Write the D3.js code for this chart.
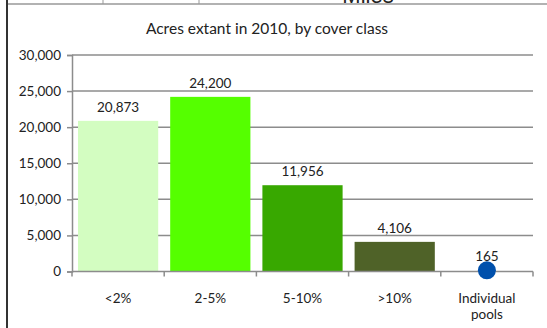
<!DOCTYPE html>
<html>
<head>
<meta charset="utf-8">
<script src="https://cdn.jsdelivr.net/npm/d3@7"></script>
<style>
    body { margin: 0; background: #fff; }
    svg text { font-family: Lato, "Open Sans", sans-serif; fill: #222; }
</style>
</head>
<body>
<div id="chart"></div>
<script>
// data
const categories = ["<2%", "2-5%", "5-10%", ">10%", "Individual pools"];
const acres = [20873, 24200, 11956, 4106, 165];
const yTicks = [0, 5000, 10000, 15000, 20000, 25000, 30000];

const barColors = ["#d3fdc1", "#55ff00", "#38a800", "#4f6228"];
const dotColor = "#0050ac";

let width = 547, height = 328;
let margin = {top: 55, right: 14, bottom: 56.5, left: 72};

let svg = d3.select("#chart").append("svg")
    .attr("width", width)
    .attr("height", height);

// leftover bits of the surrounding document
svg.append("line")
    .attr("x1", 8).attr("x2", width).attr("y1", 4).attr("y2", 4)
    .attr("stroke", "#999").attr("stroke-width", 1.5);
[103, 199].forEach(x => svg.append("line")
    .attr("x1", x).attr("x2", x).attr("y1", 0).attr("y2", 4)
    .attr("stroke", "#999"));
svg.append("line")
    .attr("x1", 7).attr("x2", 7).attr("y1", 0).attr("y2", height)
    .attr("stroke", "#333").attr("stroke-width", 2);
svg.append("text")
    .attr("x", 368).attr("y", 3)
    .attr("text-anchor", "middle")
    .style("font-size", "22px")
    .style("font-family", "Liberation Sans, Arial, sans-serif")
    .text("Miles");

// title
svg.append("text")
    .attr("x", 267).attr("y", 34)
    .attr("text-anchor", "middle")
    .style("font-size", "15.5px")
    .text("Acres extant in 2010, by cover class");

let innerW = width - margin.left - margin.right;
let innerH = height - margin.top - margin.bottom;

let g = svg.append("g")
    .attr("transform", `translate(${margin.left},${margin.top})`);

let x = d3.scaleBand()
    .domain(categories)
    .range([0, innerW])
    .paddingInner(0.13)
    .paddingOuter(0.065);

let xBand = d3.scaleBand()
    .domain(categories)
    .range([0, innerW]);

let y = d3.scaleLinear()
    .domain([0, 30000])
    .range([innerH, 0]);

// gridlines
g.selectAll(".grid")
    .data(yTicks.slice(1))
    .enter().append("line")
    .attr("class", "grid")
    .attr("x1", 0).attr("x2", innerW)
    .attr("y1", d => y(d)).attr("y2", d => y(d))
    .attr("stroke", "#8c8c8c").attr("stroke-width", 1.5);

// y axis
let yAxis = d3.axisLeft(y)
    .tickValues(yTicks)
    .tickSize(5)
    .tickPadding(6)
    .tickFormat(d3.format(","));
let yAxisGroup = g.append("g").call(yAxis);
yAxisGroup.select(".domain").attr("stroke", "#8c8c8c").attr("stroke-width", 1.5);
yAxisGroup.selectAll(".tick line").attr("stroke", "#8c8c8c").attr("stroke-width", 1.5);
yAxisGroup.selectAll("text").style("font-size", "13.5px").attr("fill", "#222");

// bars
let barData = categories.slice(0, 4).map((c, i) => ({cat: c, value: acres[i], color: barColors[i]}));
g.selectAll(".bars")
    .data(barData)
    .enter().append("rect")
    .attr("class", "bars")
    .attr("x", d => x(d.cat))
    .attr("y", d => y(d.value))
    .attr("width", x.bandwidth())
    .attr("height", d => innerH - y(d.value))
    .attr("fill", d => d.color);

// x axis
let xAxisGroup = g.append("g")
    .attr("transform", `translate(0,${innerH})`);
xAxisGroup.append("line")
    .attr("x1", 0).attr("x2", innerW)
    .attr("stroke", "#8c8c8c").attr("stroke-width", 1.5);
xAxisGroup.selectAll(".xtick")
    .data(d3.range(categories.length + 1))
    .enter().append("line")
    .attr("class", "xtick")
    .attr("x1", i => i * xBand.step()).attr("x2", i => i * xBand.step())
    .attr("y1", 0).attr("y2", 5)
    .attr("stroke", "#8c8c8c").attr("stroke-width", 1.5);
xAxisGroup.selectAll(".xlabel")
    .data(categories)
    .enter().append("text")
    .attr("class", "xlabel")
    .attr("text-anchor", "middle")
    .attr("x", d => xBand(d) + xBand.bandwidth() / 2)
    .attr("y", 31)
    .style("font-size", "13.5px")
    .each(function(d) {
        let words = d === "Individual pools" ? ["Individual", "pools"] : [d];
        d3.select(this).selectAll("tspan")
            .data(words)
            .enter().append("tspan")
            .attr("x", xBand(d) + xBand.bandwidth() / 2)
            .attr("dy", (w, i) => i === 0 ? 0 : 16.5)
            .text(w => w);
    });

// individual pools point
let last = categories.length - 1;
g.append("circle")
    .attr("cx", xBand(categories[last]) + xBand.bandwidth() / 2)
    .attr("cy", y(acres[last]))
    .attr("r", 9)
    .attr("fill", dotColor);

// value labels
g.selectAll(".vlabel")
    .data(categories)
    .enter().append("text")
    .attr("class", "vlabel")
    .attr("text-anchor", "middle")
    .attr("x", d => xBand(d) + xBand.bandwidth() / 2)
    .attr("y", (d, i) => y(acres[i]) - 9)
    .style("font-size", "13.5px")
    .text((d, i) => d3.format(",")(acres[i]));
</script>
</body>
</html>
